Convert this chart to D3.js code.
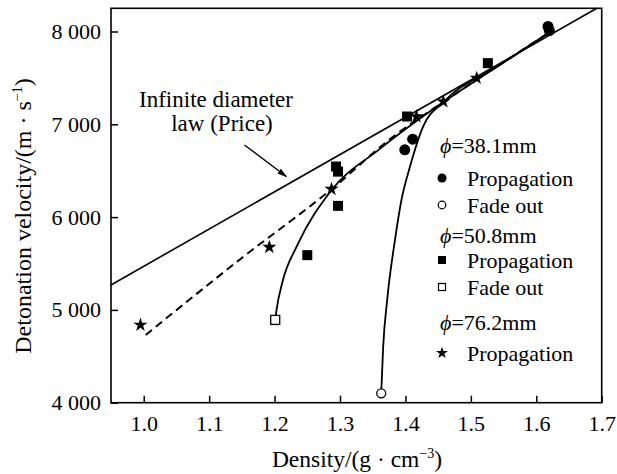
<!DOCTYPE html>
<html lang="en">

<head>
    <meta charset="UTF-8">
    <title>Detonation velocity vs density</title>
    <style>
        body { margin: 0; background: #fff; }
        svg text { font-family: "Liberation Serif", "Times New Roman", serif; fill: #000; }
    </style>
</head>

<body>
    <div id="workspace"></div>

    <script src="https://cdn.jsdelivr.net/npm/d3@7"></script>
    <script>
        // axis ticks
        const xTicks = [1.0, 1.1, 1.2, 1.3, 1.4, 1.5, 1.6, 1.7];
        const yTicks = [4000, 5000, 6000, 7000, 8000];

        // phi = 38.1 mm
        const circ38X = [1.399, 1.411, 1.618, 1.620];
        const circ38Y = [6725, 6840, 8054, 8010];
        const fade38X = [1.363];
        const fade38Y = [4101];
        const curve38X = [1.363, 1.366, 1.372, 1.384, 1.394, 1.407, 1.427, 1.458, 1.54, 1.62];
        const curve38Y = [4101, 4600, 5100, 5752, 6187, 6545, 6976, 7240, 7620, 7990];

        // phi = 50.8 mm
        const sq50X = [1.250, 1.294, 1.297, 1.297, 1.4025, 1.526];
        const sq50Y = [5590, 6545, 6490, 6121, 7084, 7659];
        const fade50X = [1.201];
        const fade50Y = [4892];
        const curve50X = [1.201, 1.203, 1.212, 1.235, 1.287, 1.36, 1.458, 1.54, 1.62];
        const curve50Y = [4892, 5000, 5300, 5700, 6290, 6730, 7240, 7620, 7990];

        // phi = 76.2 mm
        const star76X = [0.995, 1.192, 1.287, 1.417, 1.458, 1.509];
        const star76Y = [4838, 5676, 6301, 7084, 7245, 7498];
        const dash76X = [1.003, 1.15, 1.287, 1.38, 1.458, 1.62];
        const dash76Y = [4730, 5560, 6300, 6860, 7240, 7990];

        // infinite diameter law (Price)
        const priceX = [0.95, 1.6925];
        const priceY = [5269, 8250];
        const arrowX = [1.154, 1.218];
        const arrowY = [6777, 6437];

        const width = 617, height = 474;
        const margin = { top: 8.3, right: 15.3, bottom: 71.3, left: 111 };

        const svg = d3.select("#workspace").append("svg")
            .attr("width", width)
            .attr("height", height);

        const x = d3.scaleLinear().domain([0.95, 1.7]).range([margin.left, width - margin.right]);
        const y = d3.scaleLinear().domain([4000, 8250]).range([height - margin.bottom, margin.top]);

        const fmt = d3.formatLocale({ decimal: ".", thousands: " ", grouping: [3], currency: ["", ""] }).format(",");

        // axes (ticks point inward)
        const xAxis = svg.append("g")
            .attr("transform", "translate(0," + y.range()[0] + ")")
            .call(d3.axisBottom(x).tickValues(xTicks).tickFormat(d3.format(".1f"))
                .tickSizeInner(-7).tickSizeOuter(0).tickPadding(13));
        const yAxis = svg.append("g")
            .attr("transform", "translate(" + x.range()[0] + ",0)")
            .call(d3.axisLeft(y).tickValues(yTicks).tickFormat(fmt)
                .tickSizeInner(-7).tickSizeOuter(0).tickPadding(10));
        [xAxis, yAxis].forEach(g => {
            g.select(".domain").remove();
            g.selectAll(".tick line").attr("stroke", "#000").attr("stroke-width", 1.5);
            g.selectAll("text").style("font-size", "22px").style("font-family", null);
        });

        // frame
        svg.append("rect")
            .attr("x", x.range()[0]).attr("y", y.range()[1])
            .attr("width", x.range()[1] - x.range()[0])
            .attr("height", y.range()[0] - y.range()[1])
            .attr("fill", "none").attr("stroke", "#000").attr("stroke-width", 1.6);

        // axis titles
        const xt = svg.append("text")
            .attr("x", 357).attr("y", 467)
            .attr("text-anchor", "middle").style("font-size", "23.5px");
        xt.append("tspan").text("Density/(g · cm");
        xt.append("tspan").attr("dy", -9).style("font-size", "14px").text("−3");
        xt.append("tspan").attr("dy", 9).text(")");

        const yt = svg.append("text")
            .attr("transform", "translate(31,216) rotate(-90)")
            .attr("text-anchor", "middle").style("font-size", "24px");
        yt.append("tspan").text("Detonation velocity/(m · s");
        yt.append("tspan").attr("dy", -9).style("font-size", "14px").text("−1");
        yt.append("tspan").attr("dy", 9).text(")");

        // lines
        const pts = (xs, ys) => xs.map((v, i) => [v, ys[i]]);
        const line = d3.line().x(d => x(d[0])).y(d => y(d[1]));
        const smooth = d3.line().x(d => x(d[0])).y(d => y(d[1])).curve(d3.curveMonotoneX);

        svg.append("path").attr("d", line(pts(priceX, priceY)))
            .attr("fill", "none").attr("stroke", "#000").attr("stroke-width", 1.6);
        svg.append("path").attr("d", smooth(pts(curve38X, curve38Y)))
            .attr("fill", "none").attr("stroke", "#000").attr("stroke-width", 1.8);
        svg.append("path").attr("d", smooth(pts(curve50X, curve50Y)))
            .attr("fill", "none").attr("stroke", "#000").attr("stroke-width", 1.8);
        svg.append("path").attr("d", smooth(pts(dash76X, dash76Y)))
            .attr("fill", "none").attr("stroke", "#000").attr("stroke-width", 2)
            .attr("stroke-dasharray", "8,5");

        // arrow pointing at the Price line
        svg.append("defs").append("marker")
            .attr("id", "head").attr("viewBox", "0 0 10 10")
            .attr("refX", 9).attr("refY", 5)
            .attr("markerWidth", 10).attr("markerHeight", 10)
            .attr("markerUnits", "userSpaceOnUse")
            .attr("orient", "auto")
            .append("path").attr("d", "M0,2 L10,5 L0,8 Z").attr("fill", "#000");
        svg.append("path").attr("d", line(pts(arrowX, arrowY)))
            .attr("stroke", "#000").attr("stroke-width", 1.4)
            .attr("marker-end", "url(#head)");

        svg.append("text").attr("x", 216).attr("y", 107)
            .attr("text-anchor", "middle").style("font-size", "23px").text("Infinite diameter");
        svg.append("text").attr("x", 222).attr("y", 131)
            .attr("text-anchor", "middle").style("font-size", "23px").text("law (Price)");

        // markers
        const star = d3.symbol().type(d3.symbolStar);

        svg.selectAll(".c38").data(pts(circ38X, circ38Y)).enter().append("circle")
            .attr("cx", d => x(d[0])).attr("cy", d => y(d[1])).attr("r", 5.5).attr("fill", "#000");
        svg.selectAll(".f38").data(pts(fade38X, fade38Y)).enter().append("circle")
            .attr("cx", d => x(d[0])).attr("cy", d => y(d[1])).attr("r", 4.5)
            .attr("fill", "#fff").attr("stroke", "#000").attr("stroke-width", 1.3);
        svg.selectAll(".s50").data(pts(sq50X, sq50Y)).enter().append("rect")
            .attr("x", d => x(d[0]) - 5).attr("y", d => y(d[1]) - 5)
            .attr("width", 10).attr("height", 10).attr("fill", "#000");
        svg.selectAll(".f50").data(pts(fade50X, fade50Y)).enter().append("rect")
            .attr("x", d => x(d[0]) - 4.5).attr("y", d => y(d[1]) - 4.5)
            .attr("width", 9).attr("height", 9)
            .attr("fill", "#fff").attr("stroke", "#000").attr("stroke-width", 1.3);
        svg.selectAll(".s76").data(pts(star76X, star76Y)).enter().append("path")
            .attr("transform", d => "translate(" + x(d[0]) + "," + y(d[1]) + ")")
            .attr("d", star.size(62)()).attr("fill", "#000");

        // legend
        const lx = 442, tx = 467;
        const heads = [["38.1mm", 153], ["50.8mm", 242.5], ["76.2mm", 330]];
        heads.forEach(h => {
            const t = svg.append("text").attr("x", lx - 2).attr("y", h[1]).style("font-size", "22px");
            t.append("tspan").style("font-style", "italic").text("ϕ");
            t.append("tspan").text("=" + h[0]);
        });
        const items = [
            ["dot", "Propagation", 178], ["ring", "Fade out", 205],
            ["sq", "Propagation", 260], ["osq", "Fade out", 287],
            ["star", "Propagation", 353]
        ];
        items.forEach(it => {
            const cy = it[2];
            if (it[0] === "dot") svg.append("circle").attr("cx", lx).attr("cy", cy).attr("r", 4.5).attr("fill", "#000");
            if (it[0] === "ring") svg.append("circle").attr("cx", lx).attr("cy", cy).attr("r", 3.8)
                .attr("fill", "#fff").attr("stroke", "#000").attr("stroke-width", 1.2);
            if (it[0] === "sq") svg.append("rect").attr("x", lx - 4).attr("y", cy - 4).attr("width", 8).attr("height", 8).attr("fill", "#000");
            if (it[0] === "osq") svg.append("rect").attr("x", lx - 3.5).attr("y", cy - 3.5).attr("width", 7).attr("height", 7)
                .attr("fill", "#fff").attr("stroke", "#000").attr("stroke-width", 1.2);
            if (it[0] === "star") svg.append("path").attr("transform", "translate(" + lx + "," + cy + ")")
                .attr("d", star.size(45)()).attr("fill", "#000");
            svg.append("text").attr("x", tx).attr("y", cy + 7.5).style("font-size", "22px").text(it[1]);
        });
    </script>
</body>

</html>
